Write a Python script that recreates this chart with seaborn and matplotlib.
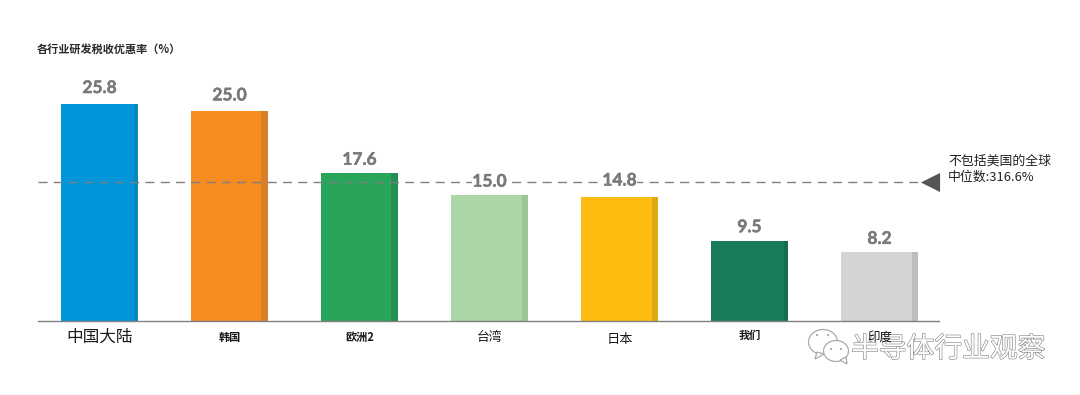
import matplotlib
matplotlib.use("Agg")
import matplotlib.pyplot as plt
import matplotlib.patheffects as pe
from matplotlib.patches import Ellipse, Polygon, Rectangle
import pandas as pd
import seaborn as sns

# data
regions = ["中国大陆", "韩国", "欧洲2", "台湾", "日本", "我们", "印度"]
rates = [25.8, 25.0, 17.6, 15.0, 14.8, 9.5, 8.2]
median_rate = 16.5
bar_colors = ["#0096D9", "#F68B1F", "#28A55A", "#ABD6A5", "#FEBC11", "#197B5A", "#D4D4D4"]
side_colors = ["#0A85C0", "#D97F2A", "#238F50", "#9CC795", "#E0A90F", "#176C50", "#BDBDBD"]
side_widths = [0.05, 0.09, 0.09, 0.08, 0.08, 0.05, 0.08]
label_sizes = [12, 8, 8, 9.2, 9.5, 8, 9]
label_pads = [12, 12, 12, 12, 13.5, 10.5, 11.5]
value_gaps = [11.5, 11, 9.5, 9.5, 11.5, 10, 9.5]

sns.set_theme(style="white")
plt.rcParams["font.family"] = ["Noto Sans CJK SC", "DejaVu Sans"]

df = pd.DataFrame({"region": regions, "rate": rates})

fig = plt.figure(figsize=(10.8, 3.95), dpi=100)
ax = fig.add_axes([38 / 1080, 74 / 395, 901 / 1080, 261 / 395])
ax.patch.set_visible(False)
ax.set_zorder(2)

sns.barplot(data=df, x="region", y="rate", hue="region", palette=bar_colors,
            width=0.595, dodge=False, legend=False, saturation=1, linewidth=0, ax=ax)

# darker strip on the right side of each bar
for patch, side, frac in list(zip(ax.patches, side_colors, side_widths)):
    patch.set_linewidth(0)
    patch.set_edgecolor("none")
    strip = patch.get_width() * frac
    r = Rectangle((patch.get_x() + patch.get_width() - strip, 0), strip,
                  patch.get_height(), fc=side, ec="none", lw=0, zorder=patch.get_zorder() + 0.1)
    ax.add_patch(r)

ax.set_xlim(-0.473, 6.458)
ax.set_ylim(0, 31.03)
ax.set_xlabel("")
ax.set_ylabel("")
ax.set_yticks([])

# median line and its marker
ax.plot([-0.473, 6.33], [median_rate, median_rate], color="#808080", lw=1,
        dashes=(6.5, 4.5), zorder=5)
ax.scatter([6.39], [median_rate], marker="<", s=190, color="#555555", lw=0, zorder=6, clip_on=False)

for i, v in enumerate(rates):
    t = ax.annotate(f"{v:.1f}", (i, v), xytext=(0, value_gaps[i]), textcoords="offset points",
                    ha="center", va="center", fontsize=12.5, fontweight="bold",
                    color="#7A7A7A", family=["Lato", "DejaVu Sans"], zorder=6,
                    bbox=dict(fc="white", ec="none", pad=0.5))
    t.set_path_effects([pe.withStroke(linewidth=0.35, foreground="#7A7A7A")])

for s in ["top", "left", "right"]:
    ax.spines[s].set_visible(False)
ax.spines["bottom"].set_color("#808080")
ax.spines["bottom"].set_linewidth(1)

ax.tick_params(axis="x", length=0, colors="#1A1A1A")
for tick, size, pad in zip(ax.xaxis.get_major_ticks(), label_sizes, label_pads):
    tick.set_pad(pad)
    tick.label1.set_fontsize(size)
    tick.label1.set_va("center")
    if size < 9:
        tick.label1.set_fontweight("bold")

# overlay in pixel coordinates for the title, note and watermark
over = fig.add_axes([0, 0, 1, 1], facecolor="none")
over.set_zorder(1)
over.set_xlim(0, 1080)
over.set_ylim(395, 0)
over.axis("off")

over.text(37, 49, "各行业研发税收优惠率（%）", fontsize=8, fontweight="bold",
          color="#2A2A2A", va="center")
over.text(948, 161, "不包括美国的全球", fontsize=9.3, color="#222222", va="center")
over.text(948, 177, "中位数:316.6%", fontsize=9.3, color="#222222", va="center")

# WeChat style watermark
over.add_patch(Ellipse((823, 342), 29, 25, fc="white", ec="#AAAAAA", lw=0.9, zorder=7))
over.add_patch(Polygon([(817, 352), (815, 359), (824, 354)], fc="white", ec="#AAAAAA", lw=0.9, zorder=7))
over.add_patch(Ellipse((836, 351), 25, 21, fc="white", ec="#AAAAAA", lw=0.9, zorder=8))
over.add_patch(Polygon([(840, 360), (847, 364), (846, 357)], fc="white", ec="#AAAAAA", lw=0.9, zorder=8))
for ex, ey in [(817, 335), (828, 335), (831, 349), (841, 349)]:
    over.add_patch(Ellipse((ex, ey), 2.2, 2.2, fc="#AAAAAA", ec="none", zorder=9))

wm = over.text(851, 349, "半导体行业观察", fontsize=20, color="white", va="center", zorder=9)
wm.set_path_effects([pe.withStroke(linewidth=0.9, foreground="#8A8A8A")])

fig.savefig("out.png", dpi=100, facecolor="white")
